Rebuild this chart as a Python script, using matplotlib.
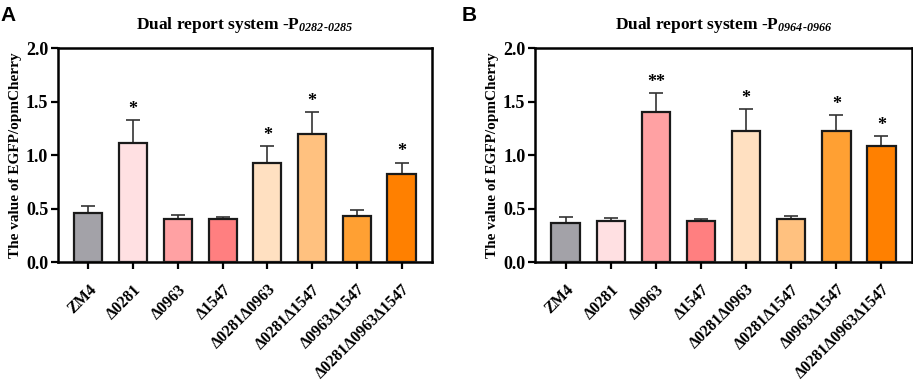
import numpy as np
import matplotlib
matplotlib.use("Agg")
import matplotlib.pyplot as plt

plt.rcParams["font.family"] = ["Liberation Serif", "DejaVu Serif"]
plt.rcParams["font.weight"] = "bold"
plt.rcParams["mathtext.fontset"] = "custom"
# el subíndice del título va en cursiva negrita (también los dígitos)
plt.rcParams["mathtext.rm"] = "Liberation Serif:italic:bold"
plt.rcParams["mathtext.it"] = "Liberation Serif:italic:bold"

cepas = ["ZM4", "Δ0281", "Δ0963", "Δ1547", "Δ0281Δ0963",
         "Δ0281Δ1547", "Δ0963Δ1547", "Δ0281Δ0963Δ1547"]
colores = ["#a3a2a8", "#ffe0e2", "#ffa1a3", "#ff7f80",
           "#ffe0c1", "#ffc17f", "#ffa033", "#ff8000"]

valores_a = [0.46, 1.11, 0.40, 0.40, 0.93, 1.20, 0.43, 0.82]
errores_a = [0.06, 0.22, 0.04, 0.02, 0.15, 0.20, 0.06, 0.11]
marcas_a = ["", "*", "", "", "*", "*", "", "*"]

valores_b = [0.36, 0.38, 1.40, 0.38, 1.22, 0.40, 1.22, 1.08]
errores_b = [0.06, 0.03, 0.18, 0.02, 0.21, 0.03, 0.15, 0.10]
marcas_b = ["", "", "**", "", "*", "", "*", "*"]

paneles = [
    ("A", r"Dual report system -P$_{0282\text{-}0285}$",
     valores_a, errores_a, marcas_a, [0.0635, 0.3123, 0.4096, 0.5617]),
    ("B", r"Dual report system -P$_{0964\text{-}0966}$",
     valores_b, errores_b, marcas_b, [0.586, 0.3123, 0.413, 0.5617]),
]

fig = plt.figure(figsize=(9.13, 3.81), dpi=100)

for letra, titulo, valores, errores, marcas, pos in paneles:
    ax = fig.add_axes(pos)
    x = np.arange(len(cepas))
    ax.bar(x, valores, width=0.63, color=colores, edgecolor="#1a1a1a",
           linewidth=1.6, zorder=3)
    ax.errorbar(x, valores, yerr=[np.zeros(len(errores)), errores],
                fmt="none", ecolor="#333333", elinewidth=1.2, capsize=5,
                capthick=1.2, zorder=2)
    for xi, v, e, m in zip(x, valores, errores, marcas):
        if m:
            ax.text(xi, v + e + 0.02, m, ha="center", va="bottom",
                    fontsize=13, fontweight="bold")
    ax.set_xlim(-0.68, 7.68)
    ax.set_ylim(0, 2.0)
    ax.set_yticks([0.0, 0.5, 1.0, 1.5, 2.0])
    ax.set_yticklabels(["0.0", "0.5", "1.0", "1.5", "2.0"])
    ax.set_xticks(x)
    ax.set_xticklabels(cepas, rotation=45, ha="right", rotation_mode="anchor")
    ax.tick_params(axis="y", labelsize=13, width=1.6, length=5, pad=2)
    ax.tick_params(axis="x", labelsize=11.5, width=1.6, length=5, pad=9)
    for s in ax.spines.values():
        s.set_linewidth(1.8)
    ax.set_ylabel("The value of EGFP/opmCherry", fontsize=11,
                  fontweight="bold", labelpad=3)
    ax.set_title(titulo, fontsize=12.5, fontweight="bold", pad=14)
    fig.text(pos[0] - 0.063 if letra == "A" else pos[0] - 0.08, 0.985, letra,
             family="Liberation Sans", fontsize=15, fontweight="bold",
             va="top", ha="left")

fig.savefig("out.png", dpi=100)
